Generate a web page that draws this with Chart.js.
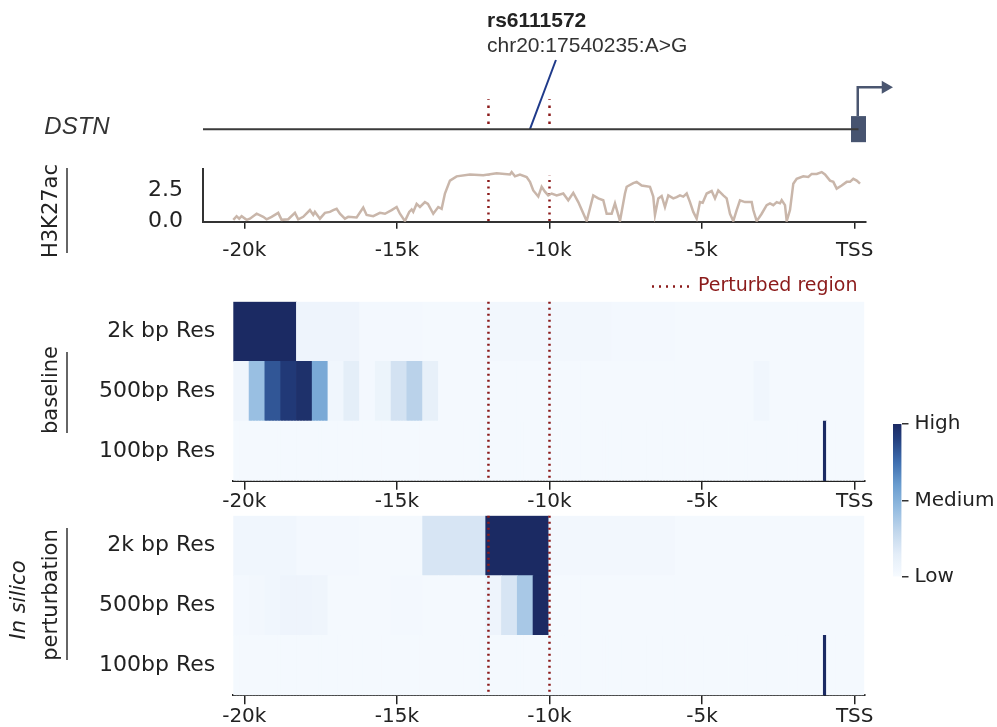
<!DOCTYPE html>
<html><head><meta charset="utf-8">
<script src="https://cdn.jsdelivr.net/npm/chart.js@4.4.1/dist/chart.umd.min.js"></script>
<style>
html,body{margin:0;padding:0;background:#fff;}
#wrap{position:relative;width:997px;height:727px;overflow:hidden;background:#fff;}
canvas{position:absolute;}
</style></head><body><div id="wrap">
<canvas id="gene" width="997" height="150" style="left:0;top:0"></canvas>
<canvas id="h3" width="997" height="150" style="left:0;top:150px"></canvas>
<canvas id="base" width="997" height="225" style="left:0;top:290px"></canvas>
<canvas id="pert" width="997" height="222" style="left:0;top:505px"></canvas>
<canvas id="cbar" width="137" height="200" style="left:860px;top:400px"></canvas>
</div>
<script>
// ---------------- data ----------------
const xTickValues = [-20000, -15000, -10000, -5000, 0];
const xTickLabels = ['-20k', '-15k', '-10k', '-5k', 'TSS'];
const h3TickValues = [0, 2.5];
const h3TickLabels = ['0.0', '2.5'];
const rowLabels = ['2k bp Res', '500bp Res', '100bp Res'];
const perturbedRegion = [-12000, -10000];
const geneName = 'DSTN';
const snpId = 'rs6111572';
const snpLabel = 'chr20:17540235:A>G';
const snpPos = -10640;
const heatWindow = [-20360, 315];
const colorbarTicks = [0, 0.5, 1];
const colorbarLabels = ['Low', 'Medium', 'High'];

const h3Pos = [-20360,-20252,-20167,-20088,-19924,-19816,-19596,-19380,-19269,-19105,
-18889,-18777,-18561,-18341,-18233,-18069,-17850,-17741,-17686,-17522,
-17358,-17194,-17086,-16975,-16867,-16703,-16595,-16320,-16103,-15992,
-15776,-15556,-15392,-15172,-15009,-14900,-14737,-14596,-14517,-14465,
-14354,-14245,-14082,-13983,-13809,-13645,-13534,-13426,-13262,-13043,
-12607,-12171,-11732,-11296,-11240,-11132,-10968,-10749,-10640,-10532,
-10368,-10257,-10149,-10041,-9929,-9765,-9549,-9385,-9221,-9057,
-8782,-8566,-8402,-8238,-8127,-7963,-7855,-7691,-7527,-7471,
-7255,-7144,-6980,-6708,-6600,-6544,-6436,-6325,-6217,-6108,
-5944,-5833,-5725,-5617,-5505,-5397,-5289,-5178,-5070,-4981,
-4850,-4686,-4578,-4470,-4306,-4195,-4086,-3978,-3867,-3759,
-3595,-3375,-3323,-3211,-3048,-2884,-2776,-2667,-2556,-2448,
-2392,-2284,-2228,-2120,-2012,-1901,-1684,-1521,-1409,-1245,
-1081,-973,-809,-701,-590,-426,-262,-154,-46,66,174];
const h3Val = [0.1,0.4,0.2,0.4,0.1,0.2,0.6,0.35,0.15,0.35,
0.67,0.1,0.15,0.67,0.15,0.35,0.9,0.5,0.75,0.2,
0.67,0.75,0.9,1.0,0.6,0.2,0.35,0.3,1.1,0.5,
0.4,0.67,0.6,0.9,1.15,0.6,0.0,0.75,0.95,0.75,
1.4,1.15,1.55,1.4,0.6,1.15,1.0,2.25,3.3,3.65,
3.8,3.75,3.9,3.8,4.0,3.65,3.8,3.6,3.2,2.5,
2.0,2.8,2.4,2.1,2.25,2.1,2.25,1.7,2.3,1.55,
0.0,2.1,1.85,1.7,0.6,0.6,1.45,0.0,2.25,2.8,
3.1,3.2,2.9,2.8,2.0,0.5,1.85,2.05,1.15,2.1,
1.85,1.95,2.1,2.0,2.25,1.55,0.75,0.2,1.55,1.5,
2.25,2.45,1.85,2.5,2.1,1.85,0.6,0.0,0.9,1.7,
1.55,1.55,0.9,0.0,0.6,1.3,1.45,1.3,1.55,1.45,
1.7,1.3,0.0,0.9,3.05,3.45,3.65,3.6,3.85,3.85,
4.0,3.8,3.3,3.2,2.65,2.9,3.2,3.2,3.45,3.3,3.05];

const baseline2k = [1.0, 0.07, 0.03, 0.02, 0.04, 0.04, 0.03, 0.02, 0.02, 0.02];
const baseline500 = [0.06, 0.43, 0.83, 0.93, 0.97, 0.54, 0.05, 0.14, 0.03, 0.08,
0.22, 0.32, 0.12, 0.02, 0.02, 0.02, 0.02, 0.02, 0.02, 0.02,
0.02, 0.02, 0.02, 0.02, 0.02, 0.02, 0.02, 0.02, 0.02, 0.02,
0.02, 0.02, 0.02, 0.05, 0.02, 0.02, 0.02, 0.02, 0.02, 0.02];
const baseline100 = [
0.02,0.02,0.02,0.02,0.02,0.02,0.02,0.02,0.02,0.02,0.02,0.02,0.02,0.02,0.02,0.02,0.02,0.02,0.02,0.02,
0.02,0.02,0.02,0.02,0.02,0.02,0.02,0.02,0.02,0.02,0.02,0.02,0.02,0.02,0.02,0.02,0.02,0.02,0.02,0.02,
0.02,0.02,0.02,0.02,0.02,0.02,0.02,0.02,0.02,0.02,0.02,0.02,0.02,0.02,0.02,0.02,0.02,0.02,0.02,0.02,
0.02,0.02,0.02,0.02,0.02,0.02,0.02,0.02,0.02,0.02,0.02,0.02,0.02,0.02,0.02,0.02,0.02,0.02,0.02,0.02,
0.02,0.02,0.02,0.02,0.02,0.02,0.02,0.02,0.02,0.02,0.02,0.02,0.02,0.02,0.02,0.02,0.02,0.02,0.02,0.02,
0.02,0.02,0.02,0.02,0.02,0.02,0.02,0.02,0.02,0.02,0.02,0.02,0.02,0.02,0.02,0.02,0.02,0.02,0.02,0.02,
0.02,0.02,0.02,0.02,0.02,0.02,0.02,0.02,0.02,0.02,0.02,0.02,0.02,0.02,0.02,0.02,0.02,0.02,0.02,0.02,
0.02,0.02,0.02,0.02,0.02,0.02,0.02,0.02,0.02,0.02,0.02,0.02,0.02,0.02,0.02,0.02,0.02,0.02,0.02,0.02,
0.02,0.02,0.02,0.02,0.02,0.02,0.02,0.02,0.02,0.02,0.02,0.02,0.02,0.02,0.02,0.02,0.02,0.02,0.02,0.02,
0.02,0.02,0.02,0.02,0.02,0.02,0.02,1.00,0.02,0.02,0.02,0.02,0.02,0.02,0.02,0.02,0.02,0.02,0.02,0.02];

const pert2k = [0.05, 0.03, 0.02, 0.20, 1.0, 0.04, 0.04, 0.02, 0.02, 0.02];
const pert500 = [0.03, 0.04, 0.05, 0.07, 0.07, 0.06, 0.02, 0.02, 0.02, 0.02,
0.03, 0.03, 0.02, 0.02, 0.02, 0.02, 0.07, 0.20, 0.38, 1.00,
0.02, 0.02, 0.02, 0.02, 0.02, 0.02, 0.02, 0.02, 0.02, 0.02,
0.02, 0.02, 0.02, 0.02, 0.02, 0.02, 0.02, 0.02, 0.02, 0.02];
const pert100 = [
0.02,0.02,0.02,0.02,0.02,0.02,0.02,0.02,0.02,0.02,0.02,0.02,0.02,0.02,0.02,0.02,0.02,0.02,0.02,0.02,
0.02,0.02,0.02,0.02,0.02,0.02,0.02,0.02,0.02,0.02,0.02,0.02,0.02,0.02,0.02,0.02,0.02,0.02,0.02,0.02,
0.02,0.02,0.02,0.02,0.02,0.02,0.02,0.02,0.02,0.02,0.02,0.02,0.02,0.02,0.02,0.02,0.02,0.02,0.02,0.02,
0.02,0.02,0.02,0.02,0.02,0.02,0.02,0.02,0.02,0.02,0.02,0.02,0.02,0.02,0.02,0.02,0.02,0.02,0.02,0.02,
0.02,0.02,0.02,0.02,0.02,0.02,0.02,0.02,0.02,0.02,0.02,0.02,0.02,0.02,0.02,0.02,0.02,0.02,0.02,0.02,
0.02,0.02,0.02,0.02,0.02,0.02,0.02,0.02,0.02,0.02,0.02,0.02,0.02,0.02,0.02,0.02,0.02,0.02,0.02,0.02,
0.02,0.02,0.02,0.02,0.02,0.02,0.02,0.02,0.02,0.02,0.02,0.02,0.02,0.02,0.02,0.02,0.02,0.02,0.02,0.02,
0.02,0.02,0.02,0.02,0.02,0.02,0.02,0.02,0.02,0.02,0.02,0.02,0.02,0.02,0.02,0.02,0.02,0.02,0.02,0.02,
0.02,0.02,0.02,0.02,0.02,0.02,0.02,0.02,0.02,0.02,0.02,0.02,0.02,0.02,0.02,0.02,0.02,0.02,0.02,0.02,
0.02,0.02,0.02,0.02,0.02,0.02,0.02,1.00,0.02,0.02,0.02,0.02,0.02,0.02,0.02,0.02,0.02,0.02,0.02,0.02];

// ---------------- layout / style helpers ----------------
const TSS_PX = 854.7, PX_PER_BP = 0.03052;
const bpAt = px => (px - TSS_PX) / PX_PER_BP;
const FONT = 'DejaVu Sans';
const RED = '#8b1a1a';
const TXT = '#222222';
Chart.defaults.font.family = FONT;
Chart.defaults.color = TXT;
Chart.defaults.animation = false;

const cmapStops = [
  [0.00, '#f7fbff'], [0.15, '#e3edf8'], [0.30, '#c0d6ec'], [0.45, '#93bbe0'],
  [0.60, '#6a9dcf'], [0.75, '#3f6fb0'], [0.90, '#24407f'], [1.00, '#1b2a63']];
function hex2rgb(h){ return [1,3,5].map(i => parseInt(h.substr(i,2),16)); }
function cmap(t){
  t = Math.max(0, Math.min(1, t));
  for (let i = 1; i < cmapStops.length; i++) {
    if (t <= cmapStops[i][0]) {
      const [t0,c0] = cmapStops[i-1], [t1,c1] = cmapStops[i];
      const f = (t - t0) / (t1 - t0), a = hex2rgb(c0), b = hex2rgb(c1);
      return 'rgb(' + a.map((v,k) => Math.round(v + (b[k]-v)*f)).join(',') + ')';
    }
  }
  return cmapStops[cmapStops.length-1][1];
}

function setTicks(values){ return s => { s.ticks = values.map(v => ({value: v})); }; }
function labelFor(values, labels){ return v => { const i = values.indexOf(v); return i >= 0 ? labels[i] : ''; }; }
function fitTo(prop, size){
  return s => { s[prop] = size; s.paddingTop = 0; s.paddingBottom = 0; s.paddingLeft = 0; s.paddingRight = 0; };
}

function rotText(ctx, txt, x, y, font){
  ctx.save(); ctx.translate(x, y); ctx.rotate(-Math.PI/2);
  ctx.font = font; ctx.fillStyle = TXT; ctx.textAlign = 'center'; ctx.textBaseline = 'middle';
  ctx.fillText(txt, 0, 0); ctx.restore();
}
function vline(ctx, x, y0, y1){
  ctx.save(); ctx.strokeStyle = '#333'; ctx.lineWidth = 1.5;
  ctx.beginPath(); ctx.moveTo(x, y0); ctx.lineTo(x, y1); ctx.stroke(); ctx.restore();
}

const noPlug = { legend: {display: false}, tooltip: {enabled: false} };

// ---------------- gene track ----------------
const line = (data, color, width, extra) => Object.assign({
  data, borderColor: color, borderWidth: width, pointRadius: 0, fill: false, tension: 0
}, extra || {});

new Chart(document.getElementById('gene'), {
  type: 'line',
  data: { datasets: [
    line([{x: bpAt(203), y: 0}, {x: 125, y: 0}], '#3a3a3a', 2),
    line([{x: 125, y: -1}, {x: 125, y: 1}], '#475470', 15, {borderCapStyle: 'butt'}),
    line([{x: 100, y: 1}, {x: 100, y: 3.22}, {x: 920, y: 3.22}], '#4a5670', 2.5),
    line([{x: 1009, y: 3.22}], '#4a5670', 0, {pointRadius: 7.5, pointStyle: 'triangle', rotation: 90, pointBackgroundColor: '#4a5670', pointBorderWidth: 0, showLine: false}),
    line([{x: perturbedRegion[0], y: 0.4}, {x: perturbedRegion[0], y: 2.3}], RED, 2.5, {borderDash: [2.5, 5.5]}),
    line([{x: perturbedRegion[1], y: 0.4}, {x: perturbedRegion[1], y: 2.3}], RED, 2.5, {borderDash: [2.5, 5.5]}),
    line([{x: snpPos, y: 0}, {x: -9789, y: 5.3}], '#1f3a8a', 2)
  ]},
  options: {
    responsive: false,
    layout: {padding: 0, autoPadding: false},
    plugins: noPlug,
    scales: {
      x: {type: 'linear', display: false, min: bpAt(0), max: bpAt(997)},
      y: {type: 'linear', display: false, min: -1.6, max: 9.9}
    }
  },
  plugins: [{id: 'geneText', afterDraw(chart){
    const ctx = chart.ctx; ctx.save();
    ctx.fillStyle = '#333';
    ctx.font = 'italic 24px "Liberation Sans"'; ctx.textAlign = 'center'; ctx.textBaseline = 'middle';
    ctx.fillText(geneName, 77, 127);
    ctx.textAlign = 'left'; ctx.textBaseline = 'alphabetic';
    ctx.fillStyle = '#222';
    ctx.font = 'bold 21px "Liberation Sans"'; ctx.fillText(snpId, 487, 27);
    ctx.fillStyle = '#333';
    ctx.font = '21px "Liberation Sans"'; ctx.fillText(snpLabel, 487, 52);
    ctx.restore();
  }}]
});

// ---------------- H3K27ac ----------------
new Chart(document.getElementById('h3'), {
  type: 'line',
  data: { datasets: [
    line(h3Pos.map((p, i) => ({x: p, y: h3Val[i]})), '#c9b6aa', 2.5),
    line([{x: perturbedRegion[0], y: 0}, {x: perturbedRegion[0], y: 3.75}], RED, 2.5, {borderDash: [2, 4.5]}),
    line([{x: perturbedRegion[1], y: 0}, {x: perturbedRegion[1], y: 3.75}], RED, 2.5, {borderDash: [2, 4.5]})
  ]},
  options: {
    responsive: false,
    layout: {padding: {left: 0, right: 997 - 866, top: 19, bottom: 0}, autoPadding: false},
    plugins: noPlug,
    scales: {
      x: {type: 'linear', min: bpAt(203), max: bpAt(866),
        afterBuildTicks: setTicks(xTickValues),
        afterFit: fitTo('height', 150 - 71.7),
        ticks: {callback: labelFor(xTickValues, xTickLabels), font: {size: 20}, color: TXT, padding: 10, maxRotation: 0, autoSkip: false},
        grid: {display: true, drawOnChartArea: false, drawTicks: true, tickLength: 7, color: '#222', lineWidth: 1.5},
        border: {display: true, color: '#333', width: 2}
      },
      y: {type: 'linear', min: -0.05, max: 4.25,
        afterBuildTicks: setTicks(h3TickValues),
        afterFit: fitTo('width', 203),
        ticks: {callback: labelFor(h3TickValues, h3TickLabels), font: {size: 22}, color: TXT, padding: 20},
        grid: {display: false, drawTicks: false},
        border: {display: true, color: '#333', width: 2}
      }
    }
  },
  plugins: [{id: 'h3Text', afterDraw(chart){
    const ctx = chart.ctx;
    rotText(ctx, 'H3K27ac', 52, 61, '21px "DejaVu Sans"');
    vline(ctx, 67, 18, 103);
    ctx.save();
    ctx.strokeStyle = RED; ctx.lineWidth = 2.5; ctx.setLineDash([2, 5]);
    ctx.beginPath(); ctx.moveTo(652, 136.5); ctx.lineTo(690, 136.5); ctx.stroke();
    ctx.fillStyle = RED; ctx.font = '19px "DejaVu Sans"'; ctx.textAlign = 'left'; ctx.textBaseline = 'middle';
    ctx.fillText('Perturbed region', 698, 136);
    ctx.restore();
  }}]
});

// ---------------- heatmaps ----------------
function cells(rows){
  const out = [];
  rows.forEach((vals, r) => {
    const w = (heatWindow[1] - heatWindow[0]) / vals.length;
    vals.forEach((v, i) => out.push({y: rowLabels[r], x: [heatWindow[0] + i*w, heatWindow[0] + (i+1)*w], v}));
  });
  return out;
}
function heatmap(id, rows, areaTop, areaBottom, canvasH, drawSide){
  new Chart(document.getElementById(id), {
    type: 'bar',
    data: { labels: rowLabels, datasets: [{
      data: cells(rows),
      backgroundColor: c => cmap(c.raw ? c.raw.v : 0),
      borderWidth: 0, borderSkipped: false, grouped: false,
      barPercentage: 1, categoryPercentage: 1
    }]},
    options: {
      indexAxis: 'y', responsive: false,
      layout: {padding: {left: 0, right: 997 - 864.3, top: areaTop, bottom: 0}, autoPadding: false},
      plugins: noPlug,
      scales: {
        y: {type: 'category', labels: rowLabels, offset: true,
          afterFit: fitTo('width', 233.3),
          ticks: {font: {size: 22}, color: TXT, padding: 18},
          grid: {display: false, drawTicks: false}, border: {display: false}
        },
        x: {type: 'linear', min: heatWindow[0], max: heatWindow[1],
          afterBuildTicks: setTicks(xTickValues),
          afterFit: fitTo('height', canvasH - areaBottom),
          ticks: {callback: labelFor(xTickValues, xTickLabels), font: {size: 20}, color: TXT, padding: 0, maxRotation: 0, autoSkip: false},
          grid: {display: true, drawOnChartArea: false, drawTicks: true, tickLength: 9, color: '#222', lineWidth: 1.5},
          border: {display: true, color: '#222', width: 2}
        }
      }
    },
    plugins: [{id: id + 'Annot', afterDatasetsDraw(chart){
      const ctx = chart.ctx, a = chart.chartArea, xs = chart.scales.x;
      ctx.save();
      ctx.strokeStyle = RED; ctx.lineWidth = 2.5; ctx.setLineDash([2, 4]);
      perturbedRegion.forEach(p => {
        const x = xs.getPixelForValue(p);
        ctx.beginPath(); ctx.moveTo(x, a.top); ctx.lineTo(x, a.bottom); ctx.stroke();
      });
      ctx.restore();
    }, afterDraw(chart){ drawSide(chart.ctx); }}]
  });
}

heatmap('base', [baseline2k, baseline500, baseline100], 11.7, 190.7, 225, ctx => {
  rotText(ctx, 'baseline', 52, 100, '21px "DejaVu Sans"');
  vline(ctx, 67, 62, 143);
});
heatmap('pert', [pert2k, pert500, pert100], 10.7, 190.3, 222, ctx => {
  rotText(ctx, 'In silico', 20, 95, 'italic 21px "DejaVu Sans"');
  rotText(ctx, 'perturbation', 52, 90, '21px "DejaVu Sans"');
  vline(ctx, 67, 23, 155);
});

// ---------------- colorbar ----------------
new Chart(document.getElementById('cbar'), {
  type: 'bar',
  data: { labels: [''], datasets: [{
    data: [[0, 1]],
    backgroundColor: c => {
      const a = c.chart.chartArea; if (!a) return cmap(0.5);
      const g = c.chart.ctx.createLinearGradient(0, a.bottom, 0, a.top);
      for (let i = 0; i <= 20; i++) g.addColorStop(i/20, cmap(i/20));
      return g;
    },
    borderWidth: 0, barPercentage: 1, categoryPercentage: 1
  }]},
  options: {
    responsive: false,
    layout: {padding: {left: 33, right: 0, top: 24, bottom: 23}, autoPadding: false},
    plugins: noPlug,
    scales: {
      x: {display: false},
      y: {position: 'right', min: 0, max: 1,
        afterBuildTicks: setTicks(colorbarTicks),
        afterFit: fitTo('width', 137 - 41.5),
        ticks: {callback: labelFor(colorbarTicks, colorbarLabels), font: {size: 20}, color: TXT, padding: 6},
        grid: {display: true, drawOnChartArea: false, drawTicks: true, tickLength: 7, color: '#333', lineWidth: 1.5},
        border: {display: false}
      }
    }
  }
});
</script></body></html>
